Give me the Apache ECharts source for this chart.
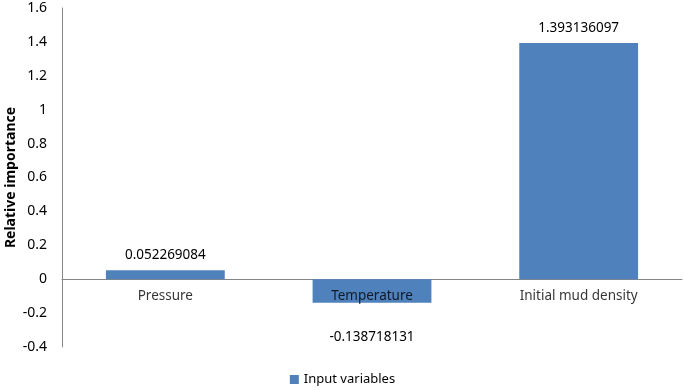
<!DOCTYPE html>
<html>
<head>
<meta charset="utf-8">
<script src="https://cdn.jsdelivr.net/npm/echarts@6/dist/echarts.min.js"></script>
<style>html,body{margin:0;padding:0;background:#fff}#c{width:685px;height:390px}</style>
</head>
<body>
<div id="c"></div>
<script>
const categories = ['Pressure', 'Temperature', 'Initial mud density'];
const values = [0.052269084, -0.138718131, 1.393136097];
const seriesName = 'Input variables';
const yMin = -0.4, yMax = 1.6, yStep = 0.2;

const font = 'Noto Sans';
const chart = echarts.init(document.getElementById('c'));
chart.setOption({
  animation: false,
  textStyle: { fontFamily: font },
  grid: { left: 62, right: 3, top: 8, bottom: 43, containLabel: false, outerBoundsMode: 'none' },
  legend: {
    bottom: -1, left: 'center', itemWidth: 9, itemHeight: 9, icon: 'rect',
    textStyle: { fontSize: 13, color: '#000', fontFamily: font },
    data: [seriesName]
  },
  xAxis: {
    type: 'category', data: categories,
    axisLine: { onZero: true, lineStyle: { color: '#868686' } },
    axisTick: { show: false },
    axisLabel: { show: false }
  },
  yAxis: {
    type: 'value', min: yMin, max: yMax, interval: yStep,
    name: 'Relative importance', nameLocation: 'middle', nameGap: 44, nameMoveOverlap: false,
    nameTextStyle: { fontWeight: 'bold', fontSize: 14, color: '#000', fontFamily: font },
    axisLine: { show: true, lineStyle: { color: '#868686' } },
    axisTick: { show: false },
    splitLine: { show: false },
    axisLabel: {
      color: '#000', fontSize: 14, margin: 15, fontFamily: font,
      formatter: v => { const r = Math.round(v * 10) / 10; return r === 0 ? '0' : String(r); }
    }
  },
  series: [{
    name: seriesName, type: 'bar', barWidth: '57.5%',
    itemStyle: { color: '#4F81BD' },
    data: values.map(v => ({
      value: v,
      label: {
        show: true, position: v >= 0 ? 'top' : 'bottom', distance: v >= 0 ? 8 : 27,
        color: '#000', fontSize: 13.5, fontFamily: font,
        formatter: p => String(p.value)
      }
    }))
  }, {
    name: 'categoryLabels', type: 'scatter', symbolSize: 0, z: 5, silent: true,
    data: categories.map(c => [c, 0]),
    label: {
      show: true, position: 'bottom', distance: 10,
      color: '#000', fontSize: 13.5, fontFamily: font,
      formatter: p => p.value[0]
    }
  }]
});
</script>
</body>
</html>
